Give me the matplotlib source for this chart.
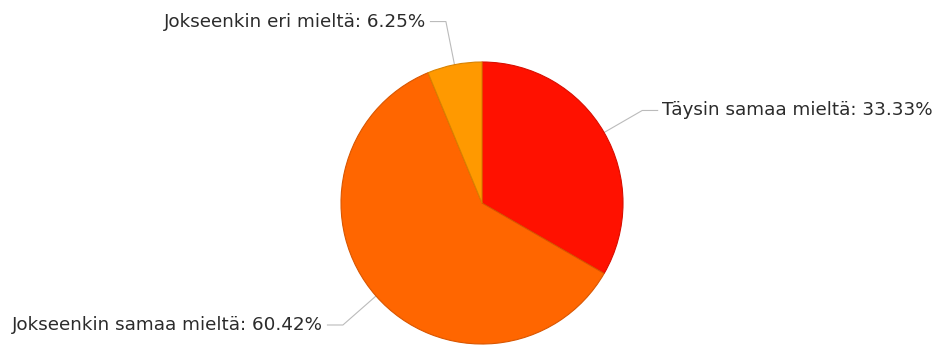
import numpy as np
import matplotlib.pyplot as plt

# survey answers, drawn clockwise from 12 o'clock
labels = ['Täysin samaa mieltä', 'Jokseenkin samaa mieltä', 'Jokseenkin eri mieltä']
shares = [33.33, 60.42, 6.25]
colors = ['#FF1100', '#FF6600', '#FF9900']
edges = ['#D80E00', '#D95600', '#D98200']

W, H = 938, 345
cx, cy, r = 482, H - 203, 141

fig = plt.figure(figsize=(W / 100, H / 100), dpi=100)
ax = fig.add_axes([0, 0, 1, 1])

wedges, _ = ax.pie(shares, colors=colors, startangle=90, counterclock=False,
                   center=(cx, cy), radius=r, frame=True,
                   wedgeprops=dict(linewidth=0.8))
for w, ec in zip(wedges, edges):
    w.set_edgecolor(ec)
ax.set_xlim(0, W)
ax.set_ylim(0, H)
ax.set_aspect('equal')
ax.axis('off')

# leader lines: radial stub out of the wedge, then a short horizontal run
for w, lab, val in zip(wedges, labels, shares):
    mid = np.deg2rad((w.theta1 + w.theta2) / 2)
    dx, dy = np.cos(mid), np.sin(mid)
    x0, y0 = cx + (r - 3) * dx, cy + (r - 3) * dy
    x1, y1 = cx + (r + 44) * dx, cy + (r + 44) * dy
    side = 1 if dx > 0 else -1
    x2 = x1 + side * 16
    ax.plot([x0, x1, x2], [y0, y1, y1], color='#BBBBBB', lw=0.8,
            solid_capstyle='butt', zorder=0)
    ax.text(x2 + side * 4, y1, f'{lab}: {val:.2f}%',
            ha='left' if side > 0 else 'right', va='center',
            fontsize=13.2, color='#2B2B2B', family='DejaVu Sans')

fig.savefig('out.png', dpi=100)
